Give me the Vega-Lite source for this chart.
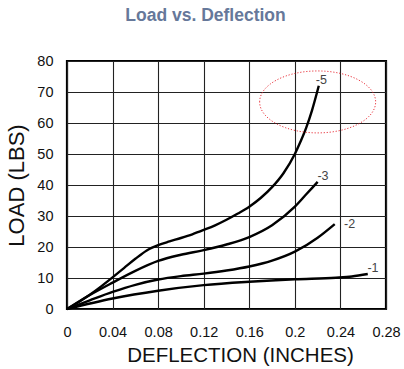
{
  "$schema": "https://vega.github.io/schema/vega-lite/v6.json",
  "width": 319,
  "height": 248,
  "autosize": "none",
  "padding": {"left": 67, "top": 61, "right": 18, "bottom": 60},
  "background": "white",
  "title": {
    "text": "Load vs. Deflection",
    "font": "Liberation Sans",
    "fontSize": 17.5,
    "fontWeight": "bold",
    "color": "#66789a",
    "anchor": "middle",
    "dx": -21,
    "offset": 29
  },
  "config": {
    "view": {"stroke": "#000", "strokeWidth": 2.2},
    "font": "Liberation Sans",
    "axis": {
      "domain": false,
      "ticks": false,
      "grid": true,
      "gridColor": "#222",
      "gridWidth": 1.1,
      "gridOpacity": 1,
      "labelFlush": false,
      "labelOverlap": false,
      "labelFont": "Liberation Sans",
      "labelFontSize": 14.5,
      "labelColor": "#111",
      "titleFont": "Liberation Sans",
      "titleFontWeight": "normal",
      "titleColor": "#111",
      "titleFontSize": 20.5
    }
  },
  "datasets": {
    "curves": [
      {"series": "-5", "d": 0, "load": 0},
      {"series": "-5", "d": 0.01, "load": 2.2},
      {"series": "-5", "d": 0.02, "load": 4.6},
      {"series": "-5", "d": 0.03, "load": 7.3},
      {"series": "-5", "d": 0.04, "load": 10.2},
      {"series": "-5", "d": 0.05, "load": 13.2},
      {"series": "-5", "d": 0.06, "load": 16.2},
      {"series": "-5", "d": 0.07, "load": 18.9},
      {"series": "-5", "d": 0.08, "load": 20.6},
      {"series": "-5", "d": 0.09, "load": 21.8},
      {"series": "-5", "d": 0.1, "load": 22.9},
      {"series": "-5", "d": 0.11, "load": 24.1},
      {"series": "-5", "d": 0.12, "load": 25.5},
      {"series": "-5", "d": 0.13, "load": 27},
      {"series": "-5", "d": 0.14, "load": 28.8},
      {"series": "-5", "d": 0.15, "load": 30.8},
      {"series": "-5", "d": 0.16, "load": 33},
      {"series": "-5", "d": 0.17, "load": 35.8},
      {"series": "-5", "d": 0.18, "load": 39.3},
      {"series": "-5", "d": 0.19, "load": 43.8},
      {"series": "-5", "d": 0.2, "load": 50},
      {"series": "-5", "d": 0.205, "load": 54},
      {"series": "-5", "d": 0.21, "load": 58.5},
      {"series": "-5", "d": 0.215, "load": 64},
      {"series": "-5", "d": 0.221, "load": 72},
      {"series": "-3", "d": 0, "load": 0},
      {"series": "-3", "d": 0.02, "load": 4.5},
      {"series": "-3", "d": 0.04, "load": 8.5},
      {"series": "-3", "d": 0.06, "load": 12.3},
      {"series": "-3", "d": 0.08, "load": 15.5},
      {"series": "-3", "d": 0.1, "load": 17.5},
      {"series": "-3", "d": 0.12, "load": 19},
      {"series": "-3", "d": 0.14, "load": 20.8},
      {"series": "-3", "d": 0.16, "load": 23.2},
      {"series": "-3", "d": 0.18, "load": 27},
      {"series": "-3", "d": 0.2, "load": 33},
      {"series": "-3", "d": 0.21, "load": 37},
      {"series": "-3", "d": 0.22, "load": 41},
      {"series": "-2", "d": 0, "load": 0},
      {"series": "-2", "d": 0.02, "load": 2.8},
      {"series": "-2", "d": 0.04, "load": 5.5},
      {"series": "-2", "d": 0.06, "load": 7.8},
      {"series": "-2", "d": 0.08, "load": 9.5},
      {"series": "-2", "d": 0.1, "load": 10.6},
      {"series": "-2", "d": 0.12, "load": 11.4},
      {"series": "-2", "d": 0.14, "load": 12.4},
      {"series": "-2", "d": 0.16, "load": 13.7},
      {"series": "-2", "d": 0.18, "load": 15.6},
      {"series": "-2", "d": 0.2, "load": 18.5},
      {"series": "-2", "d": 0.22, "load": 23},
      {"series": "-2", "d": 0.235, "load": 27.4},
      {"series": "-1", "d": 0, "load": 0},
      {"series": "-1", "d": 0.04, "load": 3.4},
      {"series": "-1", "d": 0.08, "load": 5.9},
      {"series": "-1", "d": 0.12, "load": 7.7},
      {"series": "-1", "d": 0.16, "load": 8.8},
      {"series": "-1", "d": 0.2, "load": 9.6},
      {"series": "-1", "d": 0.236, "load": 10.1},
      {"series": "-1", "d": 0.25, "load": 10.5},
      {"series": "-1", "d": 0.264, "load": 11.3}
    ],
    "labels": [
      {"series": "-5", "d": 0.2233, "load": 73.9},
      {"series": "-3", "d": 0.2247, "load": 42.9},
      {"series": "-2", "d": 0.248, "load": 27.4},
      {"series": "-1", "d": 0.2686, "load": 13.1}
    ],
    "ellipse": [
      {"d": 0.22, "load": 66.8}
    ]
  },
  "encoding": {
    "x": {
      "field": "d",
      "type": "quantitative",
      "scale": {"domain": [0, 0.28], "nice": false, "zero": true},
      "axis": {
        "values": [0, 0.04, 0.08, 0.12, 0.16, 0.2, 0.24, 0.28],
        "format": "~f",
        "labelPadding": 16,
        "title": "DEFLECTION (INCHES)",
        "titlePadding": 7,
        "titleX": 173
      }
    },
    "y": {
      "field": "load",
      "type": "quantitative",
      "scale": {"domain": [0, 80], "nice": false},
      "axis": {
        "values": [0, 10, 20, 30, 40, 50, 60, 70, 80],
        "labelPadding": 14,
        "title": "LOAD (LBS)",
        "titleFontSize": 22,
        "titlePadding": 8
      }
    }
  },
  "layer": [
    {
      "data": {"name": "curves"},
      "mark": {"type": "line", "color": "#000", "strokeWidth": 2.4, "interpolate": "monotone"},
      "encoding": {"detail": {"field": "series"}}
    },
    {
      "data": {"name": "labels"},
      "mark": {"type": "text", "fontSize": 12.5, "color": "#444", "align": "center", "baseline": "middle"},
      "encoding": {"text": {"field": "series"}}
    },
    {
      "data": {"name": "ellipse"},
      "mark": {
        "type": "point",
        "shape": "M -1 0 A 1 0.534 0 1 1 1 0 A 1 0.534 0 1 1 -1 0 Z",
        "size": 13456,
        "filled": false,
        "stroke": "#e8202a",
        "strokeWidth": 1,
        "strokeDash": [1.2, 1.8],
        "opacity": 0.9
      }
    }
  ]
}
